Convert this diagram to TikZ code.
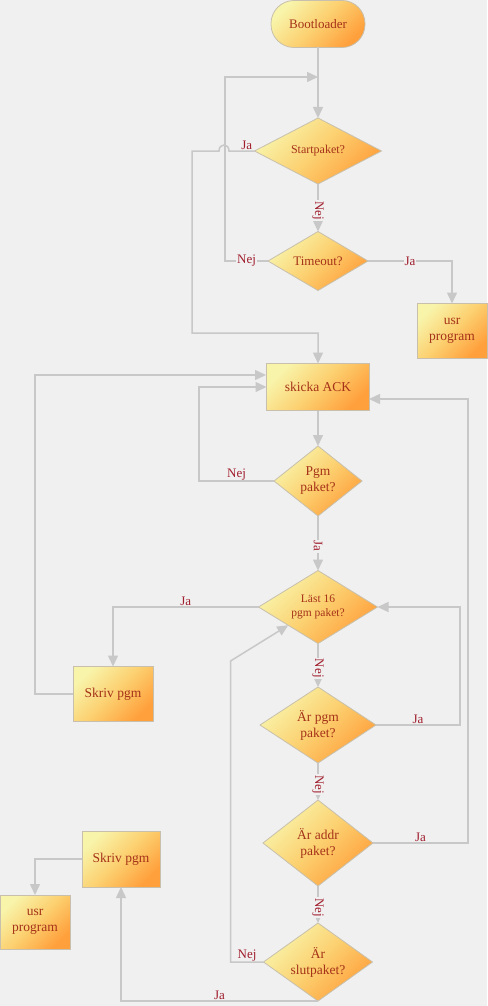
\documentclass[tikz,border=0pt]{standalone}
\usepackage{fontspec}
\setmainfont{Liberation Serif}
\usetikzlibrary{shapes.geometric,arrows.meta}
\definecolor{bg}{RGB}{240,240,240}
\definecolor{ljusgul}{RGB}{248,244,170}
\definecolor{mellangul}{RGB}{252,208,112}
\definecolor{morkorange}{RGB}{255,160,60}
\definecolor{kantgra}{RGB}{200,192,172}
\definecolor{linjegra}{RGB}{200,200,200}
\definecolor{textrod}{RGB}{165,50,25}
\definecolor{etikettrod}{RGB}{160,30,45}

\begin{document}
\begin{tikzpicture}[x=1pt,y=-1pt,
  every node/.style={outer sep=0pt, inner sep=1pt, font=\fontsize{13}{15}\selectfont},
  fyll/.style={draw=kantgra, line width=0.8pt, top color=ljusgul, bottom color=morkorange,
    middle color=mellangul, shading angle=45, text=textrod, align=center,
    font=\fontsize{13.5}{16}\selectfont},
  ruta/.style={fyll, rectangle},
  beslut/.style={fyll, diamond, inner sep=0pt, aspect=1.6},
  start/.style={fyll, rectangle, rounded corners=23pt},
  lbl/.style={text=etikettrod},
  vlbl/.style={text=etikettrod, rotate=-90, fill=bg, inner sep=1pt, xshift=3pt},
  linje/.style={draw=linjegra, line width=1.5pt},
  pil/.style={linje, -{Triangle[length=11pt,width=10pt]}}]

\fill[bg] (0,0) rectangle (487,1006);
\useasboundingbox (0,0) rectangle (487,1006);

% noder
\node[start, minimum width=94pt, minimum height=47pt, font=\fontsize{13}{15}\selectfont] (boot) at (318,24) {Bootloader};
\node[beslut, minimum width=127pt, minimum height=66pt, font=\fontsize{12}{14}\selectfont] (startp) at (318,151) {Startpaket?};
\node[beslut, minimum width=100pt, minimum height=59pt, font=\fontsize{13}{15}\selectfont] (tout) at (318,261) {Timeout?};
\node[ruta, minimum width=70pt, minimum height=55pt] (usr1) at (452,331) {usr\\program};
\node[ruta, minimum width=103pt, minimum height=47pt] (ack) at (318,387) {skicka ACK};
\node[beslut, minimum width=88pt, minimum height=70pt] (pgm) at (318,481) {Pgm\\paket?};
\node[beslut, minimum width=119pt, minimum height=73pt, font=\fontsize{11.5}{14}\selectfont] (last) at (318,607) {Läst 16\\pgm paket?};
\node[ruta, minimum width=80pt, minimum height=55pt] (skriv1) at (113,694) {Skriv pgm};
\node[beslut, minimum width=116pt, minimum height=76pt] (arpgm) at (318,725) {Är pgm\\paket?};
\node[beslut, minimum width=110pt, minimum height=86pt] (aradr) at (318,843) {Är addr\\paket?};
\node[beslut, minimum width=109pt, minimum height=78pt] (slut) at (318,962) {Är\\slutpaket?};
\node[ruta, minimum width=78pt, minimum height=56pt] (skriv2) at (121,859) {Skriv pgm};
\node[ruta, minimum width=70pt, minimum height=54pt] (usr2) at (35,922) {usr\\program};

\coordinate (j1) at (318,77);
\coordinate (ackv) at (266,375);
\coordinate (ackh) at (369,399);

% pilar
\draw[pil] (boot) -- (startp);
\draw[pil] (tout.west) -- node[lbl, fill=bg]{Nej} ++(-43,0) |- (j1);
\draw[pil] (startp.west) -- node[lbl, above, pos=0.3]{Ja} (229,151)
  .. controls (229,143) and (219,143) .. (219,151) -- (192,151) |- (318,333) -- (ack.north);
\draw[pil] (startp.south) -- node[vlbl]{Nej} (tout.north);
\draw[pil] (tout.east) -| node[lbl, fill=bg, pos=0.25]{Ja} (usr1.north);
\draw[pil] (ack.south) -- (pgm.north);
\draw[pil] (pgm.west) -- node[lbl, above]{Nej} ++(-75,0) |- (ack.west);
\draw[pil] (pgm.south) -- node[vlbl]{Ja} (last.north);
\draw[pil] (last.west) -| node[lbl, above, pos=0.25]{Ja} (skriv1.north);
\draw[pil] (skriv1.west) -- ++(-38,0) |- (ackv);
\draw[pil] (last.south) -- node[vlbl]{Nej} (arpgm.north);
\draw[pil] (arpgm.east) -- node[lbl, above]{Ja} ++(84,0) |- (last.east);
\draw[pil] (arpgm.south) -- node[vlbl]{Nej} (aradr.north);
\draw[pil] (aradr.east) -- node[lbl, above]{Ja} ++(95,0) |- (ackh);
\draw[pil] (aradr.south) -- node[vlbl]{Nej} (slut.north);
\draw[pil] (slut.west) -- node[lbl, above]{Nej} ++(-33,0) -- ++(0,-301) -- (last.south west);
\draw[pil] (slut.south) -| node[lbl, above, pos=0.25]{Ja} (skriv2.south);
\draw[pil] (skriv2.west) -| (usr2.north);
\end{tikzpicture}
\end{document}
